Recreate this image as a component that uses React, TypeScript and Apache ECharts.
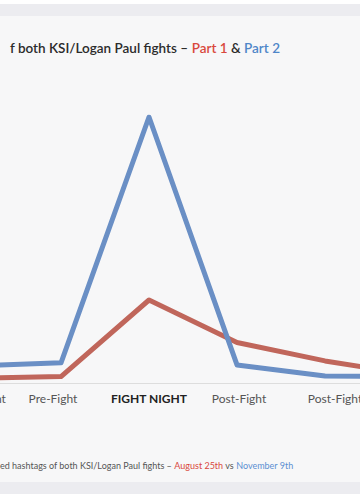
import React, { useEffect, useRef } from "react";
import * as echarts from "echarts";

const categories = ["Pre-Fight", "Pre-Fight", "FIGHT NIGHT", "Post-Fight", "Post-Fight", "Post-Fight"];
const part1Values = [1.8, 2.4, 31.2, 15.2, 8.3, 3.0];
const part2Values = [6.4, 7.6, 100, 6.8, 2.6, 2.4];
const titleParts = ["f both KSI/Logan Paul fights – ", "Part 1", " & ", "Part 2"];
const footerParts = ["ed hashtags of both KSI/Logan Paul fights – ", "August 25th", " vs ", "November 9th"];

const RED = "#c0665b";
const BLUE = "#6a8fc5";
const FONT = "Lato, 'Noto Sans', sans-serif";

export default function App() {
  const ref = useRef<HTMLDivElement>(null);
  useEffect(() => {
    document.body.style.margin = "0";
    const chart = echarts.init(ref.current!, null, { renderer: "svg" });
    const labelPad = [[0, 0, 0, 17], [0, 16, 0, 0], [0, 0, 0, 0], [0, 0, 0, 4], [0, 0, 0, 20], [0, 0, 0, 0]];
    chart.setOption({
      animation: false,
      backgroundColor: "#ffffff",
      graphic: [
        { type: "rect", z: -10, shape: { x: 0, y: 4, width: 360, height: 12 }, style: { fill: "#ececf0" } },
        { type: "rect", z: -10, shape: { x: 0, y: 16, width: 360, height: 466 }, style: { fill: "#f7f7f8" } },
        { type: "rect", z: -10, shape: { x: 0, y: 482, width: 360, height: 12 }, style: { fill: "#ececf0" } },
        {
          type: "text",
          x: 10,
          y: 48,
          style: {
            text: `{a|${titleParts[0]}}{r|${titleParts[1]}}{a|${titleParts[2]}}{b|${titleParts[3]}}`,
            verticalAlign: "middle",
            rich: {
              a: { fontFamily: FONT, fontSize: 13.5, fontWeight: 600, fill: "#2b2b2b" },
              r: { fontFamily: FONT, fontSize: 13.5, fontWeight: 600, fill: "#d9483d" },
              b: { fontFamily: FONT, fontSize: 13.5, fontWeight: 600, fill: "#4f86c8" },
            },
          },
        },
        {
          type: "text",
          x: 0,
          y: 465,
          style: {
            text: `{a|${footerParts[0]}}{r|${footerParts[1]}}{a|${footerParts[2]}}{b|${footerParts[3]}}`,
            verticalAlign: "middle",
            rich: {
              a: { fontFamily: FONT, fontSize: 9, fill: "#555555" },
              r: { fontFamily: FONT, fontSize: 9, fill: "#d9483d" },
              b: { fontFamily: FONT, fontSize: 9, fill: "#5b8fd2" },
            },
          },
        },
      ],
      grid: { left: -27, right: -53, top: 117, bottom: 117, containLabel: false, outerBoundsMode: "none" },
      xAxis: {
        type: "category",
        boundaryGap: false,
        data: categories.map((c, i) => ({
          value: c,
          textStyle: {
            padding: labelPad[i],
            fontWeight: c === "FIGHT NIGHT" ? 700 : 400,
            color: c === "FIGHT NIGHT" ? "#222222" : "#555555",
          },
        })),
        axisLine: { show: true, lineStyle: { color: "#dddddd", width: 1 } },
        axisTick: { show: false },
        axisLabel: { fontFamily: FONT, fontSize: 12, margin: 9, interval: 0 },
        splitLine: { show: false },
      },
      yAxis: {
        type: "value",
        min: 0,
        max: 100,
        show: false,
        splitLine: { show: false },
      },
      series: [
        {
          name: "Part 1",
          type: "line",
          data: part1Values,
          symbol: "none",
          lineStyle: { color: RED, width: 5, join: "round" },
          z: 2,
        },
        {
          name: "Part 2",
          type: "line",
          data: part2Values,
          symbol: "none",
          lineStyle: { color: BLUE, width: 5, join: "round" },
          z: 3,
        },
      ],
    });
    return () => chart.dispose();
  }, []);
  return <div ref={ref} style={{ width: 360, height: 500 }} />;
}
